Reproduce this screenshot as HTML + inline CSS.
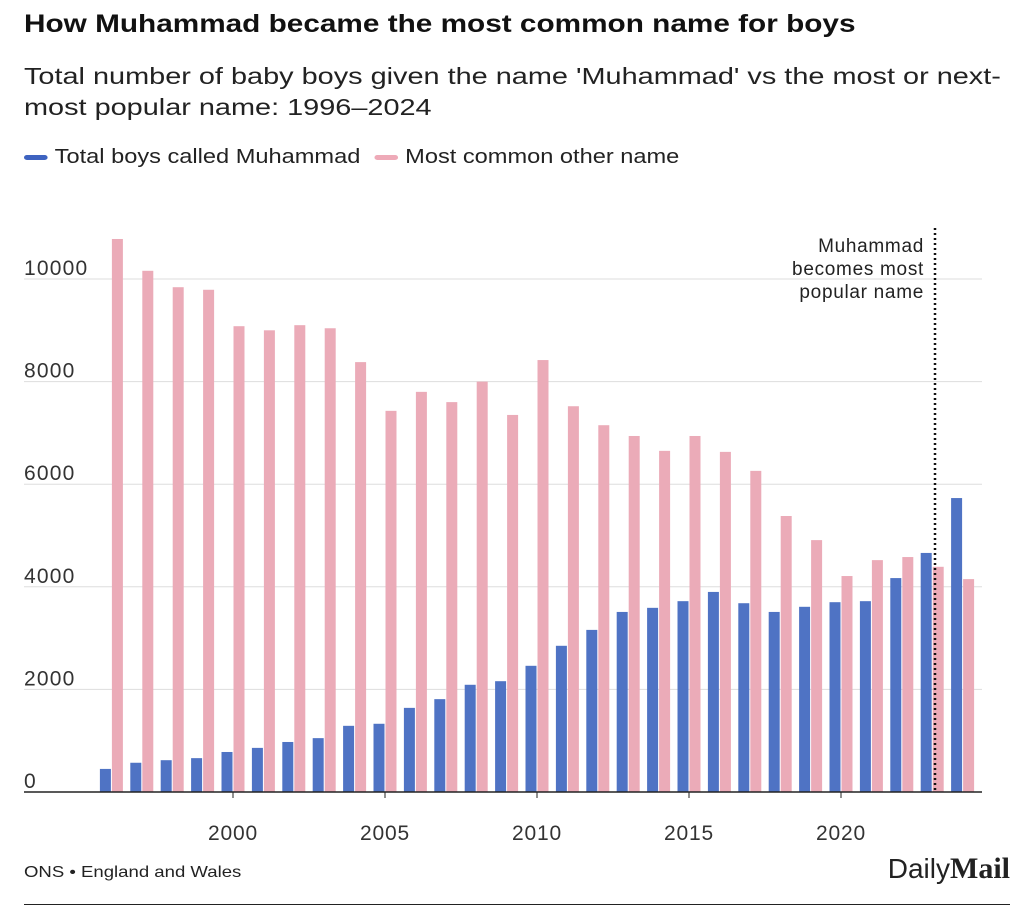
<!DOCTYPE html>
<html><head><meta charset="utf-8"><style>
body{margin:0;background:#fff;width:1024px;height:920px;overflow:hidden;font-family:"Liberation Sans",sans-serif;color:#111}
.sc{transform-origin:0 0;white-space:nowrap}
#title{position:absolute;left:24px;top:10px;font-size:25px;font-weight:bold;transform:scaleX(1.19)}
#sub{position:absolute;left:24px;top:61px;font-size:23px;line-height:31px;color:#222;transform:scaleX(1.255)}
#legend{position:absolute;left:24px;top:146px;font-size:20px;color:#222;transform:scaleX(1.18)}
.sw{display:inline-block;width:20px;height:5px;border-radius:3px;vertical-align:middle;margin-right:6px}
#src{position:absolute;left:24px;top:864px;font-size:16px;color:#222;transform:scaleX(1.16)}
#logo{position:absolute;right:14px;top:852px;font-size:28px;color:#222}
#rule{position:absolute;left:24px;right:14px;top:904px;height:1px;background:#222}
</style></head><body>
<div id="title" class="sc">How Muhammad became the most common name for boys</div>
<div id="sub" class="sc">Total number of baby boys given the name 'Muhammad' vs the most or next-<br>most popular name: 1996–2024</div>
<div id="legend" class="sc"><span><span class="sw" style="background:#3e63c0"></span>Total boys called Muhammad</span><span style="margin-left:12px"><span class="sw" style="background:#eeaab8"></span>Most common other name</span></div>
<svg id="chart" width="1024" height="920" style="position:absolute;left:0;top:0"></svg>
<div id="src" class="sc">ONS • England and Wales</div>
<div id="logo">Daily<b style="font-family:'Liberation Serif',serif;font-size:30px">Mail</b></div>
<div id="rule"></div>
<script>
const years=[1996,1997,1998,1999,2000,2001,2002,2003,2004,2005,2006,2007,2008,2009,2010,2011,2012,2013,2014,2015,2016,2017,2018,2019,2020,2021,2022,2023,2024];
const muhammad=[450,570,620,660,780,860,975,1050,1290,1330,1640,1810,2090,2160,2460,2850,3160,3510,3590,3720,3900,3680,3510,3610,3700,3720,4170,4660,5730];
const other=[10780,10160,9840,9790,9080,9000,9100,9040,8380,7430,7800,7600,8000,7350,8420,7520,7150,6940,6650,6940,6630,6260,5380,4910,4210,4520,4580,4390,4150];
const yTicks=[0,2000,4000,6000,8000,10000];
const xTicks=[2000,2005,2010,2015,2020];
const svg=document.getElementById('chart');const NS='http://www.w3.org/2000/svg';
const x=y=>233+(y-2000)*30.4;
const yS=v=>792-v*0.0513;
function mk(t,a){const e=document.createElementNS(NS,t);for(const k in a)e.setAttribute(k,a[k]);svg.appendChild(e);return e;}
yTicks.forEach(v=>{
 if(v>0){const g=mk('line',{x1:24,x2:982,y1:yS(v),y2:yS(v),stroke:'#ddd','stroke-width':1});
 
 }
 const t=mk('text',{x:24,y:yS(v)-4,'font-size':21,'letter-spacing':1.2,fill:'#333'});t.textContent=v;
 
 
});
years.forEach((yr,i)=>{
 const b=mk('rect',{x:x(yr)-11.5,y:yS(muhammad[i]),width:11,height:792-yS(muhammad[i]),fill:'#4f73c4'});
 
 
 const p=mk('rect',{x:x(yr)+0.5,y:yS(other[i]),width:11,height:792-yS(other[i]),fill:'#ebabb8'});
 
 
});
const ax=mk('line',{x1:24,x2:982,y1:792,y2:792,stroke:'#222','stroke-width':1.5});


xTicks.forEach(v=>{
 const tk=mk('line',{x1:x(v),x2:x(v),y1:792,y2:798,stroke:'#222'});
 
 
 const t=mk('text',{x:x(v),y:840,'font-size':21,'letter-spacing':0.8,fill:'#333','text-anchor':'middle'});t.textContent=v;
 
 
});
const ml=mk('line',{x1:935,x2:935,y1:228,y2:792,stroke:'#111','stroke-width':2.5,'stroke-dasharray':'2,3'});


['Muhammad','becomes most','popular name'].forEach((s,i)=>{
 const t=mk('text',{x:924,y:252+i*23,'font-size':19,'letter-spacing':0.7,fill:'#222','text-anchor':'end'});t.textContent=s;
 
 
});
</script>
</body></html>
